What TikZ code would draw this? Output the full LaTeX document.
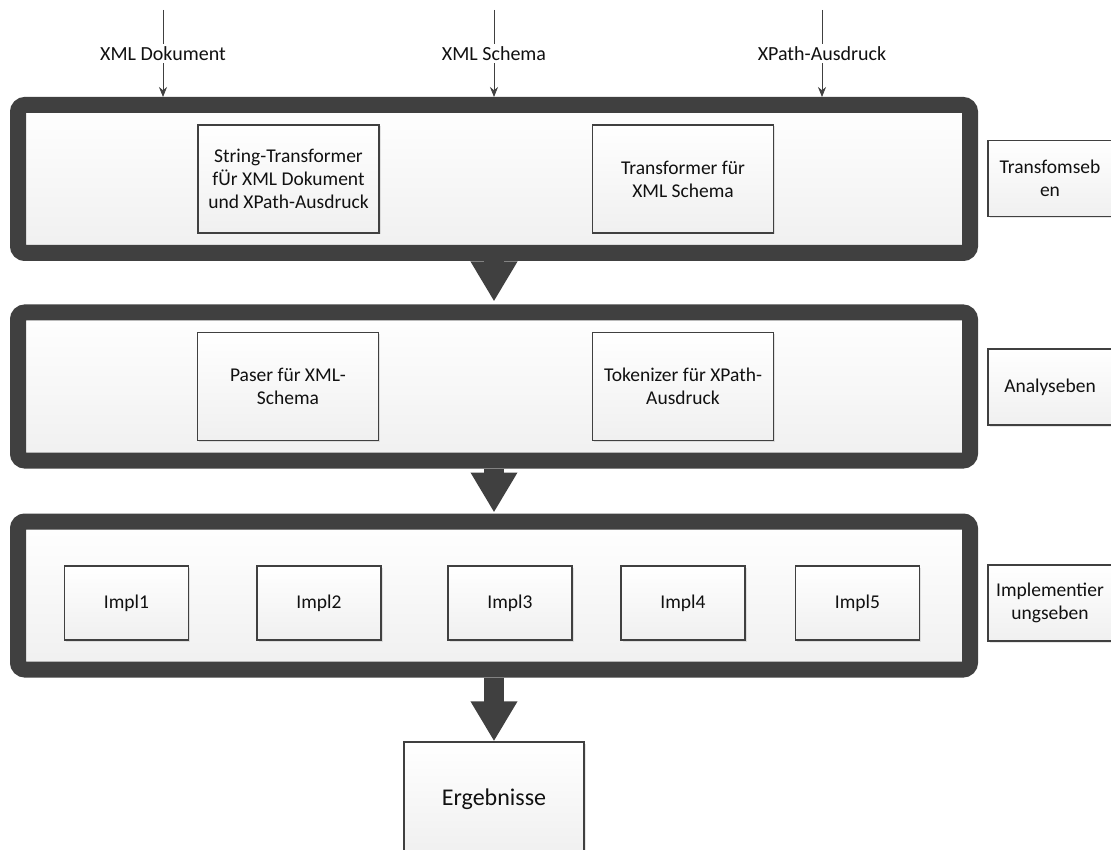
\documentclass[tikz,border=0pt]{standalone}
\usepackage{fontspec}
\setmainfont{Carlito}
\usetikzlibrary{arrows.meta,shadows}
\definecolor{frame}{HTML}{404040}
\definecolor{txt}{HTML}{111111}
\tikzset{
  layer/.style={draw=frame, line width=16pt, rounded corners=7pt,
    top color=white, bottom color=black!6, minimum width=952pt, minimum height=148pt, inner sep=0pt},
  box/.style={draw=frame, line width=1.3pt, top color=white, bottom color=black!6,
    drop shadow={opacity=0.2, shadow xshift=1.5pt, shadow yshift=-1.5pt},
    align=center, inner sep=0pt, text=txt, font=\fontsize{19.5}{23}\selectfont},
  side/.style={box, minimum width=124pt, minimum height=76pt},
  impl/.style={box, minimum width=124pt, minimum height=74pt},
  inner/.style={box, minimum width=181pt, minimum height=108pt},
  lbl/.style={fill=white, text=txt, inner sep=2pt, font=\fontsize{20}{24}\selectfont},
  inarrow/.style={draw=frame, line width=0.8pt, -{Stealth[length=10pt,width=8pt]}},
  bigarrow/.style={draw=frame, line width=20pt, -{Triangle[length=40pt,width=44pt]}}
}
\begin{document}
\begin{tikzpicture}[x=1pt,y=-1pt]
\useasboundingbox (0,0) rectangle (1111,850);
% layers
\node[layer] (f1) at (494,179) {};
\node[layer] (f2) at (494,386.5) {};
\node[layer] (f3) at (494,595.5) {};
% inputs
\coordinate (in1) at (163,10);
\coordinate (in2) at (494,10);
\coordinate (in3) at (822,10);
\draw[inarrow] (in1) -- node[lbl]{XML Dokument} (in1 |- f1.north);
\draw[inarrow] (in2) -- node[lbl]{XML Schema} (in2 |- f1.north);
\draw[inarrow] (in3) -- node[lbl]{XPath-Ausdruck} (in3 |- f1.north);
% layer 1
\node[inner] (st) at (288.5,179) {String-Transformer\\fÜr XML Dokument\\und XPath-Ausdruck};
\node[inner] (tx) at (683,179) {Transformer für\\XML Schema};
% layer 2
\node[inner] (pa) at (288,386.5) {Paser für XML-\\Schema};
\node[inner] (to) at (683,386.5) {Tokenizer für XPath-\\Ausdruck};
% layer 3
\node[impl] (i1) at (126.5,603) {Impl1};
\node[impl] (i2) at (319,603) {Impl2};
\node[impl] (i3) at (510,603) {Impl3};
\node[impl] (i4) at (683,603) {Impl4};
\node[impl] (i5) at (857.5,603) {Impl5};
% side labels
\node[side] (s1) at (1050,178.5) {Transfomseb\\en};
\node[side] (s2) at (1050,387) {Analyseben};
\node[side] (s3) at (1050,603) {Implementier\\ungseben};
% result
\node[box, minimum width=180pt, minimum height=114pt, font=\fontsize{24}{28}\selectfont] (er) at (494,799) {Ergebnisse};
% big arrows
\draw[bigarrow] (f1.south) -- ([yshift=3pt]f2.north);
\draw[bigarrow] (f2.south) -- ([yshift=1pt]f3.north);
\draw[bigarrow] (f3.south) -- (er.north);
\end{tikzpicture}
\end{document}
